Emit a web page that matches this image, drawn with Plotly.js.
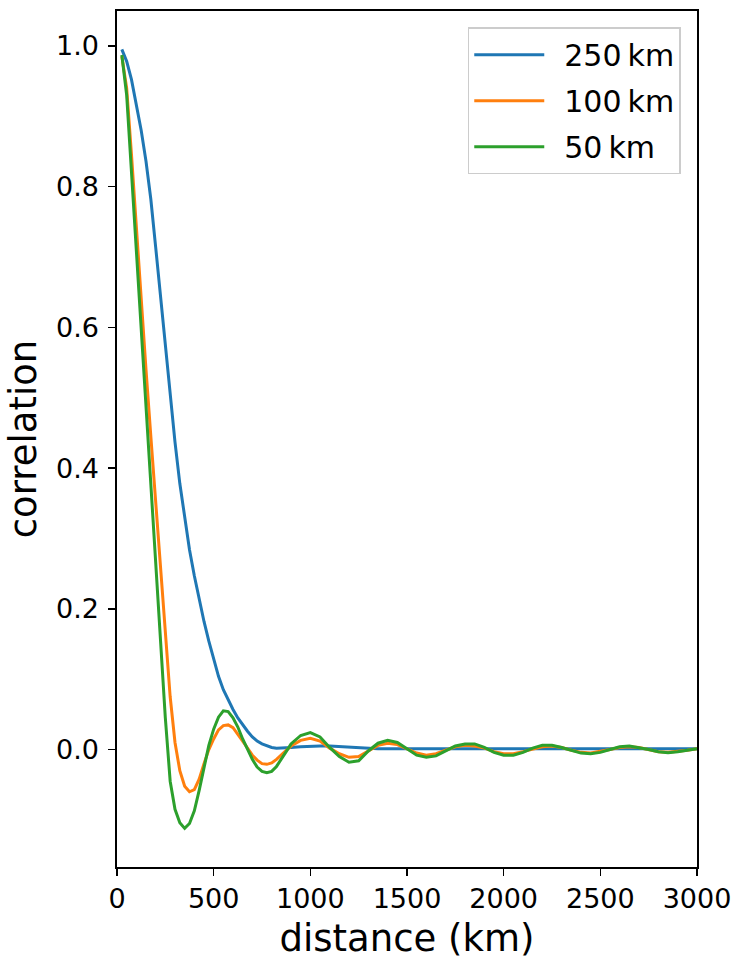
<!DOCTYPE html>
<html>
<head>
<meta charset="utf-8">
<script src="https://cdn.plot.ly/plotly-3.0.1.min.js"></script>
<style>
  html, body { margin: 0; padding: 0; background: #ffffff; }
  #chart { width: 738px; height: 961px; }
</style>
</head>
<body>
<div id="chart"></div>
<script>
// distance (km) sample positions
const distance = [
  25, 50, 75, 100, 125, 150, 175, 200, 225, 250, 275, 300, 325, 350, 375, 400,
  425, 450, 475, 500, 525, 550, 575, 600, 625, 650, 675, 700, 725, 750, 775, 800,
  825, 850, 875, 900, 950, 1000, 1050, 1100, 1150, 1200, 1250, 1300, 1350, 1400,
  1450, 1500, 1550, 1600, 1650, 1700, 1750, 1800, 1850, 1900, 1950, 2000, 2050,
  2100, 2150, 2200, 2250, 2300, 2350, 2400, 2450, 2500, 2550, 2600, 2650, 2700,
  2750, 2800, 2850, 2900, 2950, 3000
];

// correlation, 250 km
const corr250 = [
  0.995, 0.978, 0.952, 0.918, 0.880, 0.836, 0.782, 0.714, 0.643, 0.571, 0.502, 0.437,
  0.378, 0.327, 0.284, 0.247, 0.213, 0.182, 0.154, 0.128, 0.104, 0.085, 0.070, 0.057,
  0.045, 0.035, 0.026, 0.018, 0.012, 0.008, 0.005, 0.003, 0.002, 0.002, 0.002, 0.003,
  0.004, 0.005, 0.005, 0.005, 0.004, 0.003, 0.002, 0.001, 0.001, 0.001,
  0.001, 0.001, 0.001, 0.001, 0.001, 0.001, 0.001, 0.001, 0.001, 0.001, 0.001, 0.001, 0.001,
  0.001, 0.001, 0.001, 0.001, 0.001, 0.001, 0.001, 0.001, 0.001, 0.001, 0.001, 0.001, 0.001,
  0.001, 0.001, 0.001, 0.001, 0.001, 0.001
];

// correlation, 100 km
const corr100 = [
  0.985, 0.940, 0.845, 0.740, 0.640, 0.540, 0.445, 0.350, 0.255, 0.160, 0.075, 0.010,
  -0.030, -0.052, -0.060, -0.057, -0.042, -0.020, 0.000, 0.015, 0.028, 0.034, 0.035, 0.031,
  0.022, 0.012, 0.002, -0.008, -0.015, -0.020, -0.021, -0.019, -0.014, -0.008, -0.001, 0.005,
  0.013, 0.016, 0.012, 0.002, -0.006, -0.011, -0.010, -0.002, 0.006, 0.009,
  0.007, 0.001, -0.005, -0.008, -0.006, -0.001, 0.004, 0.006, 0.005, 0.002, -0.003, -0.006, -0.006,
  -0.003, 0.001, 0.004, 0.005, 0.003, -0.001, -0.004, -0.005, -0.003, 0.000, 0.003, 0.004, 0.003,
  0.000, -0.003, -0.004, -0.003, -0.001, 0.001
];

// correlation, 50 km
const corr50 = [
  0.987, 0.930, 0.820, 0.710, 0.600, 0.485, 0.370, 0.255, 0.145, 0.045, -0.045, -0.085,
  -0.104, -0.112, -0.105, -0.087, -0.058, -0.026, 0.006, 0.029, 0.046, 0.055, 0.054, 0.045,
  0.032, 0.015, 0.000, -0.014, -0.025, -0.031, -0.033, -0.031, -0.024, -0.014, -0.003, 0.008,
  0.020, 0.024, 0.018, 0.003, -0.010, -0.018, -0.016, -0.002, 0.009, 0.013,
  0.010, 0.001, -0.008, -0.011, -0.009, -0.002, 0.005, 0.008, 0.008, 0.003, -0.004, -0.008, -0.008,
  -0.004, 0.002, 0.006, 0.006, 0.003, -0.001, -0.005, -0.006, -0.004, 0.000, 0.004, 0.005, 0.003,
  0.000, -0.003, -0.0045, -0.003, -0.001, 0.001
];

const seriesNames = ['250\u2009km', '100\u2009km', '50\u2009km'];
const seriesColors = ['#1f77b4', '#ff7f0e', '#2ca02c'];
const xTicks = [0, 500, 1000, 1500, 2000, 2500, 3000];
const yTicks = [0.0, 0.2, 0.4, 0.6, 0.8, 1.0];
const yTickText = ['0.0', '0.2', '0.4', '0.6', '0.8', '1.0'];

const FONT = 'DejaVu Sans, Liberation Sans, sans-serif';
const allSeries = [corr250, corr100, corr50];

const traces = allSeries.map((ys, i) => ({
  type: 'scatter',
  mode: 'lines',
  x: distance,
  y: ys,
  name: '\u2002' + seriesNames[i],
  legendgroup: 'g' + i,
  line: { color: seriesColors[i], width: 3 }
}));

const axisCommon = {
  showgrid: false,
  zeroline: false,
  showline: true,
  mirror: true,
  linecolor: '#000000',
  linewidth: 1.6,
  ticks: 'outside',
  ticklen: 7,
  tickwidth: 1.6,
  tickcolor: '#000000',
  tickfont: { family: FONT, size: 27, color: '#000000' }
};

const layout = {
  width: 738,
  height: 961,
  margin: { l: 117, r: 41, t: 11, b: 94 },
  paper_bgcolor: '#ffffff',
  plot_bgcolor: '#ffffff',
  showlegend: true,
  xaxis: Object.assign({}, axisCommon, {
    range: [0, 3000],
    tickmode: 'array',
    tickvals: xTicks,
    title: { text: 'distance (km)', font: { family: FONT, size: 37, color: '#000000' }, standoff: 12 }
  }),
  yaxis: Object.assign({}, axisCommon, {
    range: [-0.1669, 1.0495],
    tickmode: 'array',
    tickvals: yTicks,
    ticktext: yTickText,
    ticklabelstandoff: 4,
    title: { text: 'correlation', font: { family: FONT, size: 37, color: '#000000' }, standoff: 8 }
  }),
  legend: {
    x: 0.972,
    xanchor: 'right',
    y: 0.981,
    yanchor: 'top',
    bgcolor: '#ffffff',
    bordercolor: '#cccccc',
    borderwidth: 1.5,
    font: { family: FONT, size: 30, color: '#000000' },
    tracegroupgap: 4,
    itemwidth: 70
  }
};

Plotly.newPlot('chart', traces, layout, { displayModeBar: false, staticPlot: true });
</script>
</body>
</html>
